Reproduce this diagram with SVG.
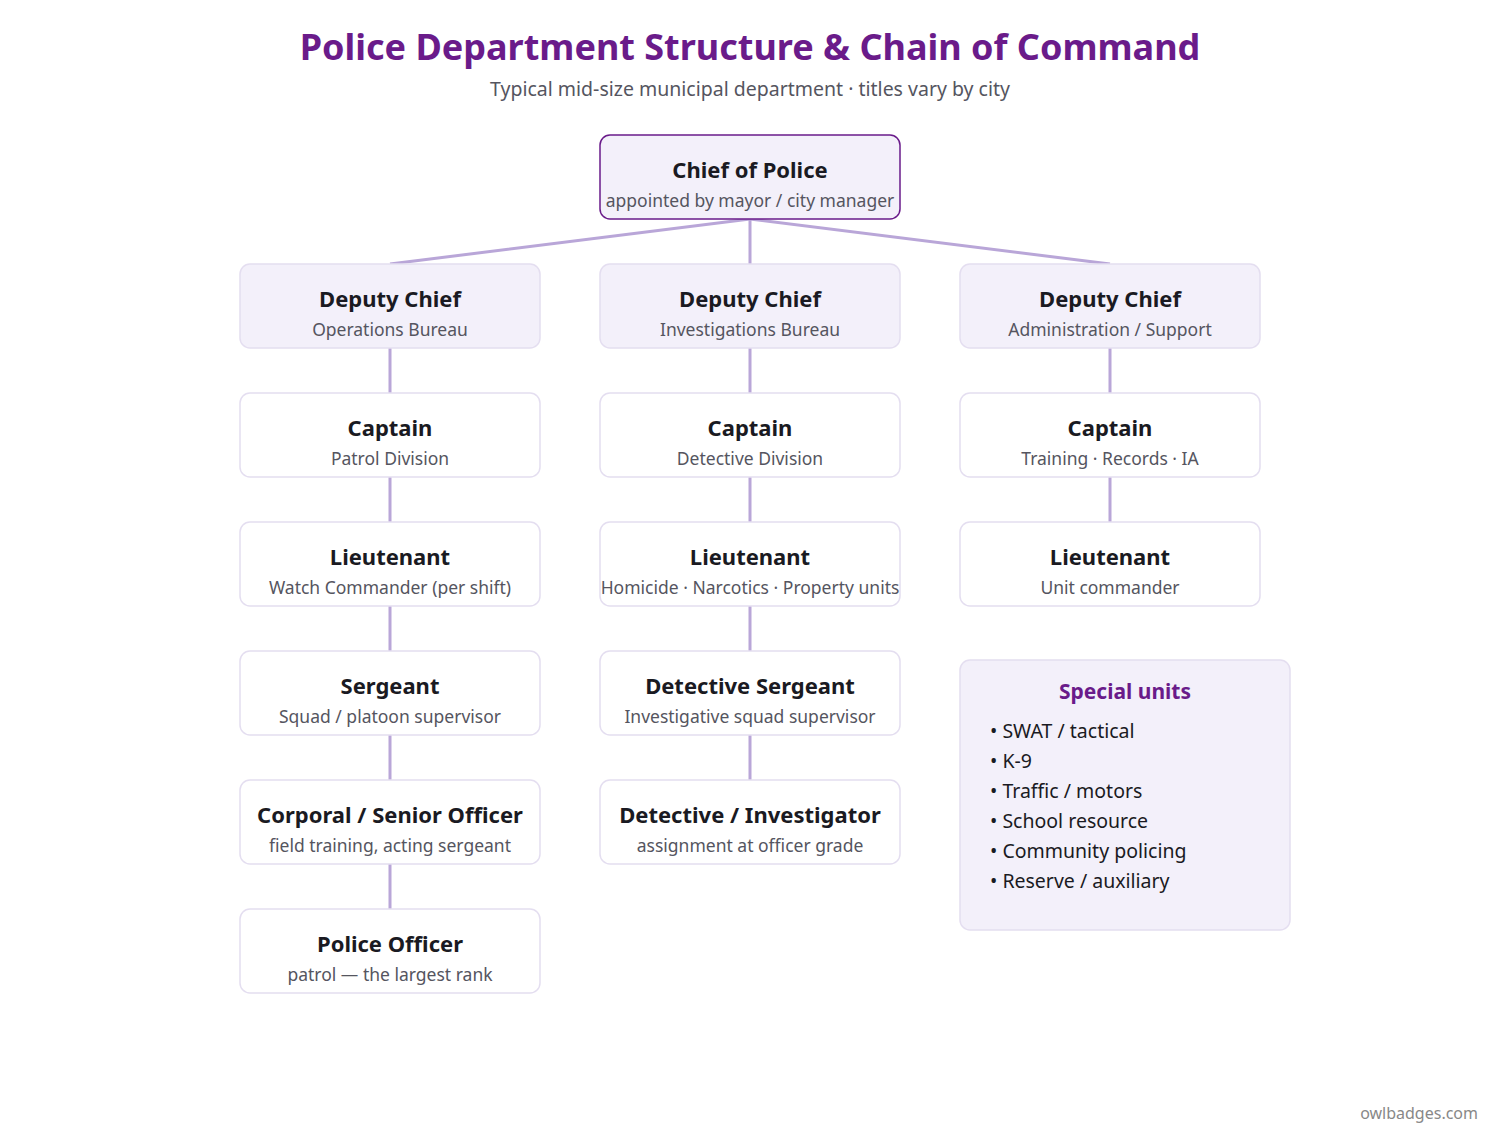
<svg xmlns="http://www.w3.org/2000/svg" width="1500" height="1140" viewBox="0 0 1500 1140">
<style>
text{font-family:"Noto Sans","Open Sans","Liberation Sans",sans-serif;text-anchor:middle}
.t{font-size:22px;font-weight:700;fill:#1a1a22}
.s{font-size:17.5px;fill:#555560}
.dep{fill:#f3f0fa;stroke:#e4def0;stroke-width:1.5}
.rk{fill:#fff;stroke:#e4def0;stroke-width:1.5}
.c{stroke:#b9a6d8;stroke-width:3;fill:none}
.b{font-size:19.5px;fill:#1a1a22;text-anchor:start}
</style>
<rect width="1500" height="1140" fill="#fff"/>
<text x="750" y="60" style="font-size:36px;font-weight:700;fill:#6a1b8a">Police Department Structure &amp; Chain of Command</text>
<text x="750" y="96" style="font-size:19.5px;fill:#555560">Typical mid-size municipal department · titles vary by city</text>
<g id="connectors">
<path class="c" d="M750 219 L390 264 M750 219 L750 264 M750 219 L1110 264"/>
<path class="c" d="M390 348V393M390 477V522M390 606V651M390 735V780M390 864V909"/>
<path class="c" d="M750 348V393M750 477V522M750 606V651M750 735V780"/>
<path class="c" d="M1110 348V393M1110 477V522"/>
</g>
<g id="chief"><rect x="600" y="135" width="300" height="84" rx="10" fill="#f3f0fa" stroke="#6a1b8a" stroke-width="1.5"/><text class="t" x="750" y="178">Chief of Police</text><text class="s" x="750" y="207">appointed by mayor / city manager</text></g>
<g id="dc1"><rect class="dep" x="240" y="264" width="300" height="84" rx="10"/><text class="t" x="390" y="307">Deputy Chief</text><text class="s" x="390" y="336">Operations Bureau</text></g>
<g id="dc2"><rect class="dep" x="600" y="264" width="300" height="84" rx="10"/><text class="t" x="750" y="307">Deputy Chief</text><text class="s" x="750" y="336">Investigations Bureau</text></g>
<g id="dc3"><rect class="dep" x="960" y="264" width="300" height="84" rx="10"/><text class="t" x="1110" y="307">Deputy Chief</text><text class="s" x="1110" y="336">Administration / Support</text></g>
<g id="cap1"><rect class="rk" x="240" y="393" width="300" height="84" rx="10"/><text class="t" x="390" y="436">Captain</text><text class="s" x="390" y="465">Patrol Division</text></g>
<g id="cap2"><rect class="rk" x="600" y="393" width="300" height="84" rx="10"/><text class="t" x="750" y="436">Captain</text><text class="s" x="750" y="465">Detective Division</text></g>
<g id="cap3"><rect class="rk" x="960" y="393" width="300" height="84" rx="10"/><text class="t" x="1110" y="436">Captain</text><text class="s" x="1110" y="465">Training · Records · IA</text></g>
<g id="lt1"><rect class="rk" x="240" y="522" width="300" height="84" rx="10"/><text class="t" x="390" y="565">Lieutenant</text><text class="s" x="390" y="594">Watch Commander (per shift)</text></g>
<g id="lt2"><rect class="rk" x="600" y="522" width="300" height="84" rx="10"/><text class="t" x="750" y="565">Lieutenant</text><text class="s" x="750" y="594">Homicide · Narcotics · Property units</text></g>
<g id="lt3"><rect class="rk" x="960" y="522" width="300" height="84" rx="10"/><text class="t" x="1110" y="565">Lieutenant</text><text class="s" x="1110" y="594">Unit commander</text></g>
<g id="sgt1"><rect class="rk" x="240" y="651" width="300" height="84" rx="10"/><text class="t" x="390" y="694">Sergeant</text><text class="s" x="390" y="723">Squad / platoon supervisor</text></g>
<g id="sgt2"><rect class="rk" x="600" y="651" width="300" height="84" rx="10"/><text class="t" x="750" y="694">Detective Sergeant</text><text class="s" x="750" y="723">Investigative squad supervisor</text></g>
<g id="cpl"><rect class="rk" x="240" y="780" width="300" height="84" rx="10"/><text class="t" x="390" y="823">Corporal / Senior Officer</text><text class="s" x="390" y="852">field training, acting sergeant</text></g>
<g id="det"><rect class="rk" x="600" y="780" width="300" height="84" rx="10"/><text class="t" x="750" y="823">Detective / Investigator</text><text class="s" x="750" y="852">assignment at officer grade</text></g>
<g id="po"><rect class="rk" x="240" y="909" width="300" height="84" rx="10"/><text class="t" x="390" y="952">Police Officer</text><text class="s" x="390" y="981">patrol — the largest rank</text></g>
<g id="special"><rect class="dep" x="960" y="660" width="330" height="270" rx="10"/>
<text x="1125" y="699" style="font-size:21px;font-weight:700;fill:#6a1b8a">Special units</text>
<text class="b" x="990" y="738">• SWAT / tactical</text>
<text class="b" x="990" y="768">• K-9</text>
<text class="b" x="990" y="798">• Traffic / motors</text>
<text class="b" x="990" y="828">• School resource</text>
<text class="b" x="990" y="858">• Community policing</text>
<text class="b" x="990" y="888">• Reserve / auxiliary</text></g>
<text x="1478" y="1119" style="font-size:16px;fill:#888;text-anchor:end">owlbadges.com</text>
</svg>
